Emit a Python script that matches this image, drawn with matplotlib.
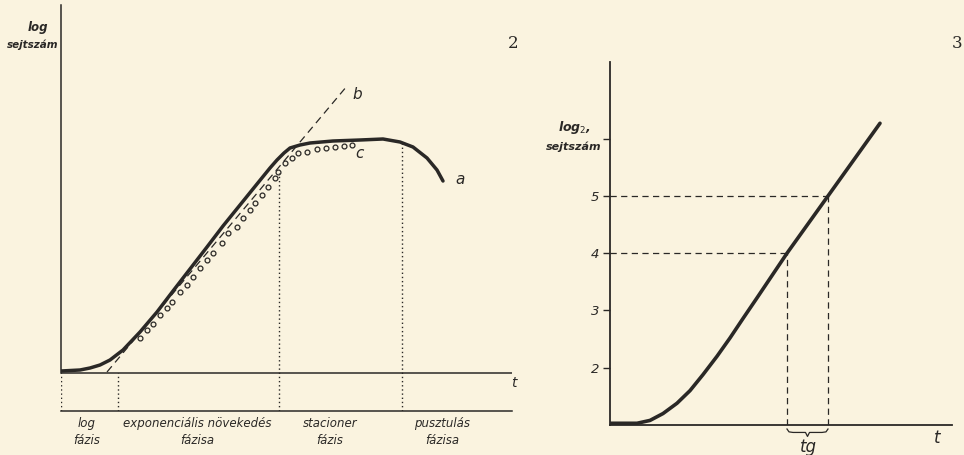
import matplotlib
matplotlib.use('Agg')
import matplotlib.pyplot as plt

W, H = 964, 455
paper = '#faf3df'
ink = '#2a2826'

# --- 2. abra: novekedesi gorbe (a), exponencialis egyenes (b), merespontok (c)
a_t = [0.0, 1.9, 2.9, 3.9, 4.9, 6.2, 7.9, 9.6, 11.2, 12.9, 14.6, 16.2, 17.9, 19.6, 20.9, 21.6,
       22.3, 22.9, 23.9, 24.9, 27.2, 29.9, 32.2, 33.9, 35.2, 36.6, 37.6, 38.2]
a_log = [0.2, 0.3, 0.5, 0.8, 1.3, 2.3, 4.1, 6.1, 8.2, 10.4, 12.6, 14.7, 16.8, 18.9, 20.5, 21.3,
         22.0, 22.5, 22.8, 23.0, 23.2, 23.3, 23.4, 23.1, 22.6, 21.5, 20.3, 19.2]
b_t = [4.6, 28.6]
b_log = [0.1, 28.7]
c_t = [7.9, 8.6, 9.2, 9.9, 10.6, 11.1, 11.9, 12.6, 13.2, 13.9, 14.6, 15.2, 16.1, 16.7, 17.6, 18.2,
       18.9, 19.4, 20.1, 20.7, 21.4, 21.7, 22.4, 23.1, 23.7, 24.6, 25.6, 26.5, 27.4, 28.3, 29.1]
c_log = [3.5, 4.3, 4.9, 5.8, 6.5, 7.1, 8.1, 8.8, 9.6, 10.5, 11.3, 12.0, 13.0, 14.0, 14.6, 15.5,
         16.3, 17.0, 17.8, 18.6, 19.5, 20.1, 21.0, 21.5, 22.0, 22.1, 22.4, 22.5, 22.6, 22.7, 22.8]
phase_t = [0.0, 5.7, 21.8, 34.1]        # fazishatarok
phase_top = [0.0, 0.0, 20.0, 23.1]
phase_names = ['log\nfázis', 'exponenciális növekedés\nfázisa', 'stacioner\nfázis', 'pusztulás\nfázisa']

# --- 3. abra: generacios ido
g_t = [0.0, 2.7, 4.0, 5.3, 6.7, 8.0, 9.3, 10.7, 12.0, 13.3, 14.7, 16.2, 17.7, 21.8, 27.0]
g_log2 = [1.03, 1.03, 1.08, 1.20, 1.38, 1.60, 1.88, 2.20, 2.52, 2.86, 3.22, 3.61, 4.0, 5.0, 6.27]
g_ticks = [2, 3, 4, 5, 6]
g_ticklabels = ['2', '3', '4', '5', '']
tg_t = [17.7, 21.8]
tg_log2 = [4, 5]


def px(x, y):
    return x / W, 1 - y / H


fig = plt.figure(figsize=(W / 100, H / 100), dpi=100, facecolor=paper)

# bal panel
ax1 = fig.add_axes([61 / W, (H - 411) / H, (512 - 61) / W, (411 - 5) / H])
ax1.set_facecolor('none')
ax1.set_xlim(0, 45.1)
ax1.set_ylim(-3.8, 36.8)
for s in ['top', 'right']:
    ax1.spines[s].set_visible(False)
for s in ['left', 'bottom']:
    ax1.spines[s].set_color(ink)
    ax1.spines[s].set_linewidth(1.1)
ax1.spines['left'].set_bounds(0, 36.8)
ax1.set_xticks([])
ax1.set_yticks([])
ax1.axhline(0, color=ink, lw=1.1)
ax1.plot(a_t, a_log, color=ink, lw=2.5, solid_capstyle='round', solid_joinstyle='round')
ax1.plot(b_t, b_log, color=ink, lw=0.9, ls=(0, (6, 4)))
ax1.plot(c_t, c_log, ls='none', marker='o', ms=3.5, mfc='none', mec=ink, mew=0.9)
for t, top in zip(phase_t, phase_top):
    ax1.plot([t, t], [-3.8, top], color=ink, lw=1.0, ls=(0, (1, 2)))
ax1.text(39.4, 19.3, 'a', fontsize=11, style='italic', color=ink, va='center')
ax1.text(29.1, 27.8, 'b', fontsize=11, style='italic', color=ink, va='center')
ax1.text(29.4, 22.0, 'c', fontsize=11, style='italic', color=ink, va='center')

lbl_x = [87, 197, 330, 442]
for x, name in zip(lbl_x, phase_names):
    fig.text(*px(x, 432), name, ha='center', va='center', fontsize=8.5, style='italic',
             color=ink, linespacing=1.35)
fig.text(*px(38, 27), 'log', ha='center', va='center', fontsize=8.5, style='italic',
         weight='bold', color=ink)
fig.text(*px(33, 45), 'sejtszám', ha='center', va='center', fontsize=7.5, style='italic',
         weight='bold', color=ink)
fig.text(*px(514, 383), 't', ha='center', va='center', fontsize=10, style='italic', color=ink)
fig.text(*px(513, 44), '2', ha='center', va='center', fontsize=12, family='DejaVu Serif',
         color=ink)
fig.text(*px(957, 44), '3', ha='center', va='center', fontsize=12, family='DejaVu Serif',
         color=ink)

# jobb panel
ax2 = fig.add_axes([610 / W, (H - 425) / H, (952 - 610) / W, (425 - 62) / H])
ax2.set_facecolor('none')
ax2.set_xlim(0, 34.2)
ax2.set_ylim(1, 7.34)
for s in ['top', 'right']:
    ax2.spines[s].set_visible(False)
for s in ['left', 'bottom']:
    ax2.spines[s].set_color(ink)
    ax2.spines[s].set_linewidth(1.3)
ax2.set_xticks([])
ax2.set_yticks(g_ticks)
ax2.set_yticklabels(g_ticklabels, fontsize=9.5, style='italic', color=ink)
ax2.tick_params(axis='y', direction='out', length=5, width=1.0, color=ink, pad=3)
ax2.plot(g_t, g_log2, color=ink, lw=2.6, solid_capstyle='round', solid_joinstyle='round')
for t, v in zip(tg_t, tg_log2):
    ax2.plot([0, t], [v, v], color=ink, lw=0.9, ls=(0, (5, 3.5)))
    ax2.plot([t, t], [1, v], color=ink, lw=0.9, ls=(0, (5, 3.5)))

# kapocs a tg alatt
br_x = [tg_t[0], tg_t[0] + 0.2, tg_t[0] + 0.6, 19.55, 19.75, 19.95, tg_t[1] - 0.6, tg_t[1] - 0.2, tg_t[1]]
br_y = [0.93, 0.88, 0.87, 0.87, 0.80, 0.87, 0.87, 0.88, 0.93]
ax2.plot(br_x, br_y, color=ink, lw=0.9, clip_on=False)

fig.text(*px(575, 128), 'log$_2$,', ha='center', va='center', fontsize=9, style='italic',
         weight='bold', color=ink)
fig.text(*px(574, 147), 'sejtszám', ha='center', va='center', fontsize=8, style='italic',
         weight='bold', color=ink)
fig.text(*px(937, 438), 't', ha='center', va='center', fontsize=12, style='italic', color=ink)
fig.text(*px(808, 447), 'tg', ha='center', va='center', fontsize=12, style='italic', color=ink)

fig.savefig('out.png', dpi=100, facecolor=paper)
